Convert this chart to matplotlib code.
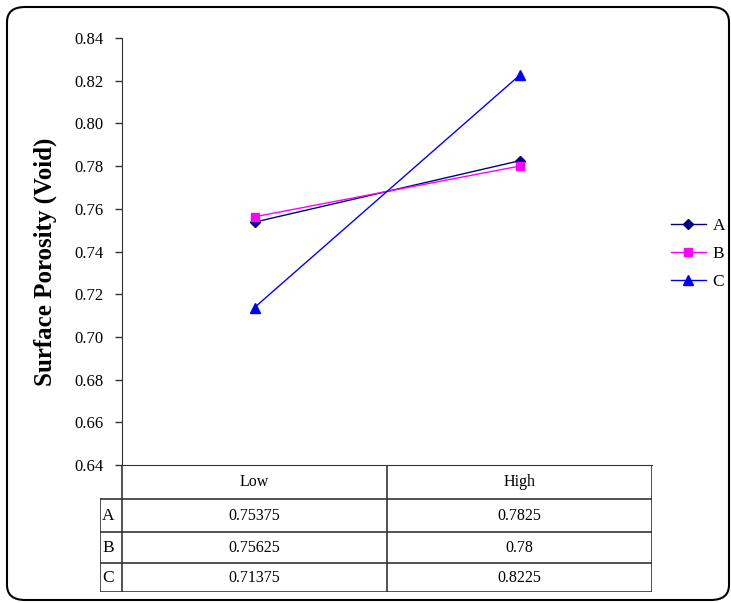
import matplotlib
matplotlib.use('Agg')
import matplotlib.pyplot as plt
from matplotlib.patches import FancyBboxPatch
from matplotlib.lines import Line2D

# levels and mean surface porosity for each factor
levels = ['Low', 'High']
factors = ['A', 'B', 'C']
a_vals = [0.75375, 0.7825]
b_vals = [0.75625, 0.78]
c_vals = [0.71375, 0.8225]
a_text = ['0.75375', '0.7825']
b_text = ['0.75625', '0.78']
c_text = ['0.71375', '0.8225']
yticks = [0.64, 0.66, 0.68, 0.70, 0.72, 0.74, 0.76, 0.78, 0.80, 0.82, 0.84]

plt.rcParams['font.family'] = ['Liberation Serif', 'DejaVu Serif']

W, H = 731, 603
fig = plt.figure(figsize=(W / 100, H / 100), dpi=100)

def fx(px):
    return px / W

def fy(py):
    return 1 - py / H

# rounded outer frame
frame = FancyBboxPatch((fx(7), fy(600)), fx(722) - fx(0), fy(7) - fy(600),
                       boxstyle="round,pad=0,rounding_size=0.025",
                       transform=fig.transFigure, fill=False,
                       edgecolor='black', linewidth=1.5)
fig.patches.append(frame)

ax = fig.add_axes([fx(122), fy(465), fx(652) - fx(122), fy(38) - fy(465)])
x = range(len(levels))
ax.plot(x, a_vals, color='#000080', marker='D', markersize=5, linewidth=1, label='A')
ax.plot(x, b_vals, color='#ff00ff', marker='s', markersize=6, linewidth=1, label='B')
ax.plot(x, c_vals, color='#0000ff', marker='^', markersize=7, linewidth=1, label='C')

ax.set_xlim(-0.5, len(levels) - 0.5)
ax.set_ylim(0.64, 0.84)
ax.set_yticks(yticks)
ax.set_yticklabels(['%.2f' % v for v in yticks], fontsize=12)
ax.set_xticks([])
for side in ['top', 'right']:
    ax.spines[side].set_visible(False)
ax.spines['left'].set_color('#333333')
ax.spines['bottom'].set_color('#333333')
ax.tick_params(axis='y', length=5, width=1, color='#333333', pad=8)
ax.set_ylabel('Surface Porosity (Void)', fontsize=18, fontweight='bold')
ax.yaxis.set_label_coords(-0.122, 0.475)

handles = [Line2D([], [], color='#000080', marker='D', markersize=5, linewidth=1),
           Line2D([], [], color='#ff00ff', marker='s', markersize=6, linewidth=1),
           Line2D([], [], color='#0000ff', marker='^', markersize=7, linewidth=1)]
fig.legend(handles, factors, loc='center left', bbox_to_anchor=(fx(671), fy(254)),
           frameon=False, fontsize=12.5, handlelength=2.0, handletextpad=0.4,
           labelspacing=0.7, borderpad=0, borderaxespad=0)

# data table under the axis
tab = fig.add_axes([fx(100), fy(592), fx(652) - fx(100), fy(465) - fy(592)])
tab.set_xlim(100, 652)
tab.set_ylim(592, 465)
tab.axis('off')
lc = '#333333'
col_edges = [122, 387, 652]
row_edges = [499, 532, 563, 592]
# header row
tab.plot([122, 652], [465, 465], color=lc, linewidth=1.2)
for cx in col_edges:
    tab.plot([cx, cx], [465, 592], color=lc, linewidth=1.2)
tab.plot([100, 100], [499, 592], color=lc, linewidth=1.2)
for ry in row_edges:
    tab.plot([100, 652], [ry, ry], color=lc, linewidth=1.2)

centers = [(col_edges[i] + col_edges[i + 1]) / 2 for i in range(2)]
for i, lv in enumerate(levels):
    tab.text(centers[i], 482, lv, ha='center', va='center', fontsize=11.5)
rows = [a_text, b_text, c_text]
for r, (name, vals) in enumerate(zip(factors, rows)):
    ymid = (row_edges[r] + row_edges[r + 1]) / 2
    tab.text(102, ymid, name, ha='left', va='center', fontsize=12.5)
    for i, v in enumerate(vals):
        tab.text(centers[i], ymid, v, ha='center', va='center', fontsize=11.5)

plt.savefig('out.png', dpi=100)
